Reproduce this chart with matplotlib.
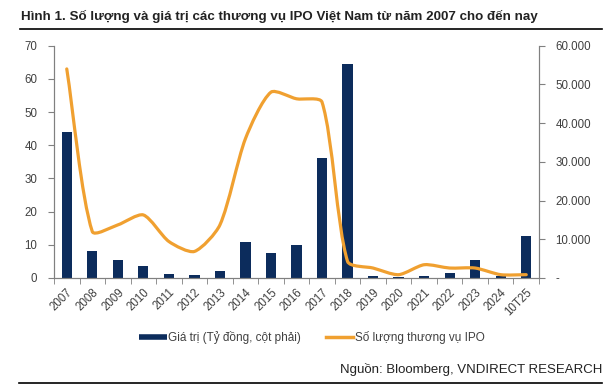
import numpy as np
import matplotlib.pyplot as plt
from matplotlib.path import Path
from matplotlib.patches import PathPatch
from matplotlib.lines import Line2D
from matplotlib.ticker import FixedLocator, FuncFormatter

plt.rcParams['font.family'] = ['Liberation Sans', 'DejaVu Sans']

# --- data ---
years = ['2007', '2008', '2009', '2010', '2011', '2012', '2013', '2014', '2015', '2016',
         '2017', '2018', '2019', '2020', '2021', '2022', '2023', '2024', '10T25']
# giá trị IPO (tỷ đồng) - right axis
value_bn = [37800, 7100, 4600, 3000, 1000, 800, 1900, 9400, 6400, 8400,
            31000, 55400, 400, 200, 400, 1200, 4600, 400, 10800]
# số lượng thương vụ - left axis
deal_count = [63, 14, 16, 19, 11, 8, 16, 42, 56, 54,
              53, 5, 3, 1, 4, 3, 3, 1, 1]

navy = '#0c2c5c'
orange = '#f0a030'
grey = '#404040'
spine_c = '#808080'

fig = plt.figure(figsize=(6.12, 3.91), dpi=100)
ax = fig.add_axes([54 / 612, 1 - 278 / 391, (539 - 54) / 612, (278 - 45.7) / 391])
ax2 = ax.twinx()

x = np.arange(len(years))

# bars (right axis values)
ax.bar(x, value_bn, width=0.4, color=navy, zorder=2)
ax.set_ylim(0, 60000)
ax.set_xlim(-0.5, len(years) - 0.5)
ax.yaxis.tick_right()
ax.yaxis.set_major_locator(FixedLocator(range(0, 60001, 10000)))
ax.yaxis.set_major_formatter(FuncFormatter(lambda v, p: '-' if v == 0 else f'{int(v):,}'.replace(',', '.')))

ax2.set_ylim(0, 70)
ax2.set_xlim(-0.5, len(years) - 0.5)

# smoothed line like excel: bezier handles scaled by segment length on screen
pts = np.column_stack([x, deal_count]).astype(float)
scr = ax2.transData.transform(pts)
n = len(pts)
verts = [tuple(pts[0])]
codes = [Path.MOVETO]
t = 0.25
for i in range(n - 1):
    i0, i3 = max(i - 1, 0), min(i + 2, n - 1)
    d01 = np.hypot(*(scr[i] - scr[i0]))
    d12 = np.hypot(*(scr[i + 1] - scr[i]))
    d23 = np.hypot(*(scr[i3] - scr[i + 1]))
    f1 = t * d12 / (d01 + d12) if i0 < i else t
    f2 = t * d12 / (d12 + d23) if i3 > i + 1 else t
    c1 = pts[i] + (pts[i + 1] - pts[i0]) * f1
    c2 = pts[i + 1] - (pts[i3] - pts[i]) * f2
    verts += [tuple(c1), tuple(c2), tuple(pts[i + 1])]
    codes += [Path.CURVE4] * 3
ax2.add_patch(PathPatch(Path(verts, codes), facecolor='none', edgecolor=orange,
                        lw=2.3, capstyle='round', joinstyle='round'))
ax2.yaxis.tick_left()
ax2.yaxis.set_major_locator(FixedLocator(range(0, 71, 10)))

# x axis: ticks between categories
ax.set_xticks(x)
ax.set_xticklabels(years, rotation=45, ha='right', rotation_mode='anchor')
ax.set_xticks(np.arange(-0.5, len(years)), minor=True)
ax.tick_params(axis='x', which='major', length=0, pad=6, labelsize=8.3, labelcolor=grey)
ax.tick_params(axis='x', which='minor', length=4, color=spine_c, direction='out')
ax.tick_params(axis='y', length=4, color=spine_c, labelsize=8.3, labelcolor=grey, pad=8)
ax2.tick_params(axis='y', length=4, color=spine_c, labelsize=8.3, labelcolor=grey, pad=8)

for a in (ax, ax2):
    a.spines['top'].set_visible(False)
    for s in ('left', 'right', 'bottom'):
        a.spines[s].set_color(spine_c)
        a.spines[s].set_linewidth(0.8)

# legend
handles = [Line2D([], [], color=navy, lw=4, solid_capstyle='butt'),
           Line2D([], [], color=orange, lw=2.5)]
fig.legend(handles, ['Giá trị (Tỷ đồng, cột phải)', 'Số lượng thương vụ IPO'],
           loc='center', bbox_to_anchor=(0.51, 1 - 338 / 391), ncol=2, frameon=False,
           fontsize=8.5, handlelength=2.3, handletextpad=0.15, columnspacing=2.1,
           labelcolor=grey)

# title, rules and source
fig.text(21 / 612, 1 - 16 / 391, 'Hình 1. Số lượng và giá trị các thương vụ IPO Việt Nam từ năm 2007 cho đến nay',
         fontsize=9.65, fontweight='bold', color='#222222', va='center')
fig.add_artist(Line2D([20 / 612, 602 / 612], [1 - 29 / 391] * 2, color='black', lw=1.2))
fig.add_artist(Line2D([19 / 612, 602 / 612], [1 - 383 / 391] * 2, color='black', lw=1.2))
fig.text(602 / 612, 1 - 370 / 391, 'Nguồn: Bloomberg, VNDIRECT RESEARCH',
         fontsize=9.5, color='#222222', ha='right', va='center')

fig.savefig('out.png', dpi=100)
